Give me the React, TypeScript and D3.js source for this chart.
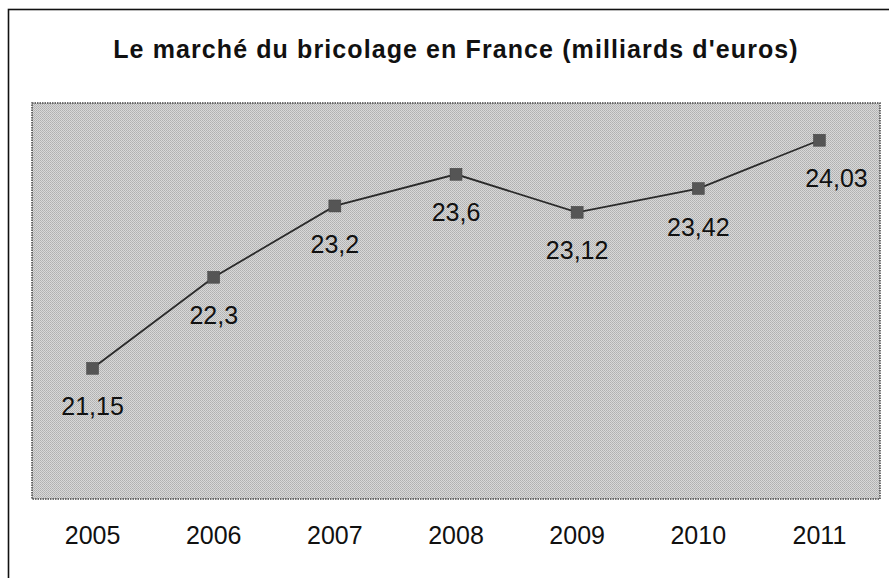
import React from "react";
import * as d3 from "d3";

const width = 889;
const height = 578;

const years = ["2005", "2006", "2007", "2008", "2009", "2010", "2011"];
const values = [21.15, 22.3, 23.2, 23.6, 23.12, 23.42, 24.03];
const valueLabels = ["21,15", "22,3", "23,2", "23,6", "23,12", "23,42", "24,03"];

const plot = {left: 32, top: 103, right: 880, bottom: 499};
const font = "'Liberation Sans', Arial, sans-serif";

function App() {
    const x = d3.scalePoint<string>()
        .domain(years)
        .range([plot.left, plot.right])
        .padding(0.5);

    const y = d3.scaleLinear()
        .domain([19.5, 24.5])
        .range([plot.bottom, plot.top]);

    const line = d3.line<number>()
        .x((d, i) => x(years[i]) as number)
        .y(d => y(d));

    const last = values.length - 1;

    return (
        <svg width={width} height={height} style={{position: "absolute", left: 0, top: 0, background: "#fff"}}>
            <defs>
                <pattern id="dither" width="2" height="2" patternUnits="userSpaceOnUse">
                    <rect width="2" height="2" fill="#d8d8d8"/>
                    <rect width="1" height="1" fill="#b0b0b0"/>
                    <rect x="1" y="1" width="1" height="1" fill="#b8b8b8"/>
                </pattern>
            </defs>

            {/* outer frame, runs past the right and bottom edges */}
            <rect x={8.5} y={9.5} width={900} height={600} fill="none" stroke="#111" strokeWidth={1.6}/>

            <text x={456} y={58} textAnchor="middle" fontFamily={font} fontWeight="bold"
                  fontSize={25} letterSpacing={1.1} fill="#111">
                Le marché du bricolage en France (milliards d'euros)
            </text>

            <rect x={plot.left} y={plot.top} width={plot.right - plot.left} height={plot.bottom - plot.top}
                  fill="url(#dither)" stroke="#444" strokeWidth={1.5} strokeDasharray="1.5 1"/>

            <path d={line(values) ?? ""} fill="none" stroke="#2a2a2a" strokeWidth={1.8}/>

            {values.map((v, i) => (
                <rect key={"m" + i} x={(x(years[i]) as number) - 6} y={y(v) - 6} width={12} height={12}
                      fill="#555" stroke="#444" strokeWidth={0.5}/>
            ))}

            {values.map((v, i) => (
                <text key={"l" + i} x={(x(years[i]) as number) + (i === last ? 17 : 0)} y={y(v) + 47}
                      textAnchor="middle" fontFamily={font} fontSize={25} fill="#111">
                    {valueLabels[i]}
                </text>
            ))}

            {years.map(yr => (
                <text key={yr} x={x(yr)} y={544} textAnchor="middle" fontFamily={font} fontSize={25} fill="#111">
                    {yr}
                </text>
            ))}
        </svg>
    );
}

export default App;
